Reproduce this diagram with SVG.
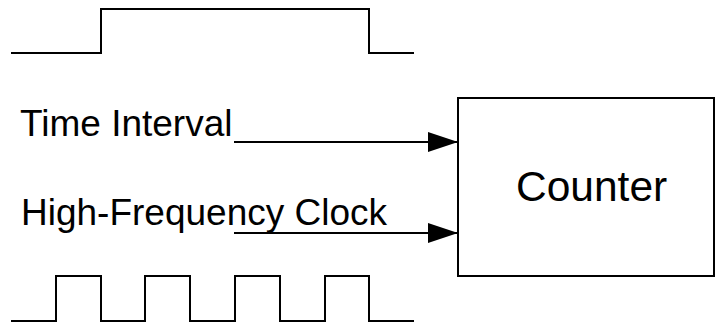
<svg xmlns="http://www.w3.org/2000/svg" width="718" height="327" viewBox="0 0 718 327">
  <style>
    .wave { fill: none; stroke: #000; stroke-width: 2; }
    .wire { fill: none; stroke: #000; stroke-width: 2; }
    .box { fill: #fff; stroke: #000; stroke-width: 2; }
    .lbl { font-family: "Liberation Sans", Arial, sans-serif; font-size: 37px; fill: #000; }
  </style>
  <defs>
    <marker id="arrow" markerUnits="userSpaceOnUse" markerWidth="30" markerHeight="20" refX="30" refY="10" orient="auto">
      <path d="M0,0 L30,10 L0,20 Z" fill="#000"/>
    </marker>
  </defs>

  <!-- gate signal -->
  <path class="wave" d="M11,53 H101 V9 H369 V53 H414"/>

  <!-- clock signal -->
  <path class="wave" d="M11,321 H56 V276 H101 V321 H145 V276 H190 V321 H235 V276 H280 V321 H325 V276 H369 V321 H414"/>

  <g id="counter">
    <rect class="box" x="458" y="98" width="256" height="178"/>
    <text class="lbl" x="516" y="201" style="font-size:42.5px">Counter</text>
  </g>

  <g id="time-interval">
    <text class="lbl" x="20" y="136">Time Interval</text>
  </g>

  <g id="clock">
    <text class="lbl" x="21" y="225">High-Frequency Clock</text>
  </g>

  <g id="connectors">
    <line class="wire" x1="234" y1="142" x2="458" y2="142" marker-end="url(#arrow)"/>
    <line class="wire" x1="234" y1="233" x2="458" y2="233" marker-end="url(#arrow)"/>
  </g>
</svg>
